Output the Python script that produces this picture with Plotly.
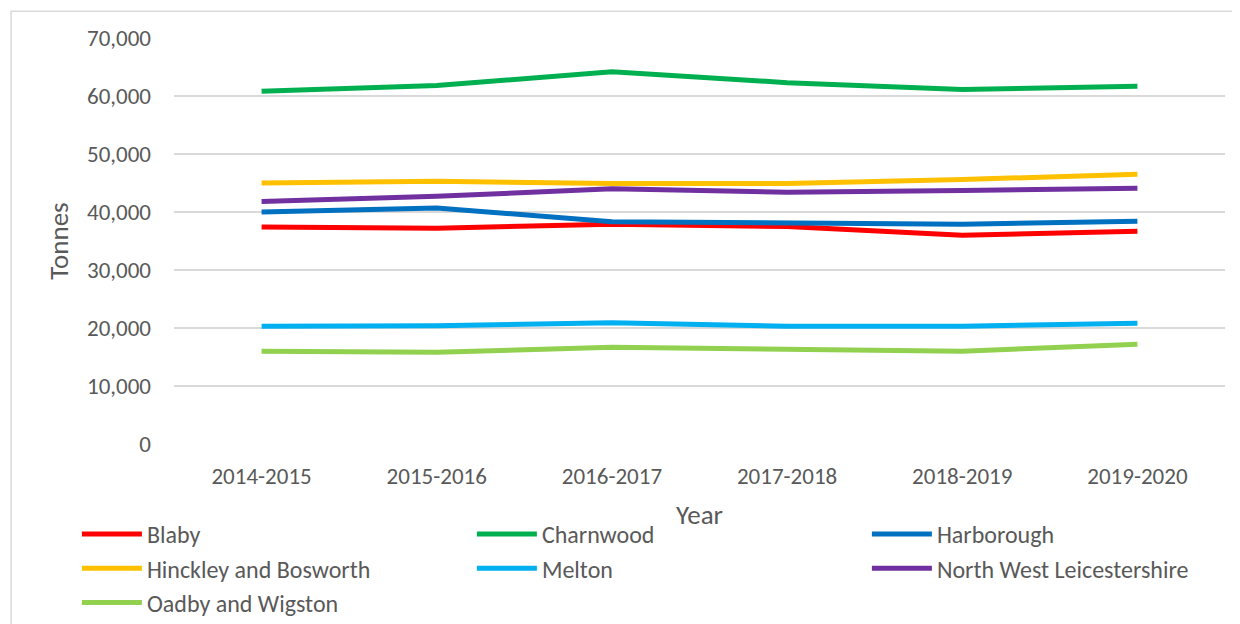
import plotly.graph_objects as go

years = ["2014-2015", "2015-2016", "2016-2017", "2017-2018", "2018-2019", "2019-2020"]

blaby = [37400, 37200, 37900, 37500, 36000, 36700]
charnwood = [60800, 61800, 64200, 62300, 61100, 61700]
harborough = [40000, 40700, 38300, 38100, 37900, 38400]
hinckley = [45000, 45300, 44900, 44900, 45600, 46500]
melton = [20300, 20400, 20900, 20300, 20300, 20800]
nw_leics = [41800, 42700, 44000, 43400, 43700, 44100]
oadby = [16000, 15800, 16700, 16300, 16000, 17200]

series = [
    ("Blaby", blaby, "#FF0000"),
    ("Charnwood", charnwood, "#00B050"),
    ("Harborough", harborough, "#0070C0"),
    ("Hinckley and Bosworth", hinckley, "#FFC000"),
    ("Melton", melton, "#00B0F0"),
    ("North West Leicestershire", nw_leics, "#7030A0"),
    ("Oadby and Wigston", oadby, "#92D050"),
]

FONT = "Calibri, Carlito, Open Sans, sans-serif"
GREY = "#595959"

fig = go.Figure()
for name, vals, col in series:
    fig.add_trace(go.Scatter(
        x=years, y=vals, name=name, mode="lines",
        line=dict(color=col, width=5),
    ))

fig.update_layout(
    template="none",
    width=1240, height=624,
    margin=dict(l=166, r=23, t=30, b=188, autoexpand=False),
    paper_bgcolor="white", plot_bgcolor="white",
    font=dict(family=FONT, color=GREY, size=23),
    showlegend=True,
    legend=dict(
        orientation="h", x=-0.0924, xanchor="left", y=-0.1675, yanchor="top",
        entrywidth=320, entrywidthmode="pixels", itemwidth=60,
        font=dict(size=24, color=GREY, family=FONT),
        traceorder="normal", bgcolor="rgba(0,0,0,0)",
    ),
    xaxis=dict(
        type="category", range=[-0.5, 5.5], showgrid=False, zeroline=False,
        showline=False, ticks="", ticklabelstandoff=16, automargin=False,
        tickfont=dict(size=23, color=GREY, family=FONT),
        title=dict(text="Year", font=dict(size=27, color=GREY, family=FONT), standoff=16),
    ),
    yaxis=dict(
        range=[0, 70000], dtick=10000, tickformat=",d",
        showgrid=True, gridcolor="#D9D9D9", gridwidth=1.5,
        zeroline=False, showline=False, ticks="", ticklabelstandoff=22, automargin=False,
        tickfont=dict(size=23, color=GREY, family=FONT),
        title=dict(text="Tonnes", font=dict(size=27, color=GREY, family=FONT), standoff=10),
    ),
    shapes=[dict(
        type="rect", xref="paper", yref="paper",
        x0=-0.155, x1=1.03, y0=-0.48, y1=1.066,
        line=dict(color="#D9D9D9", width=1.5), fillcolor="rgba(0,0,0,0)", layer="below",
    )],
)

fig.write_html("out.html")
